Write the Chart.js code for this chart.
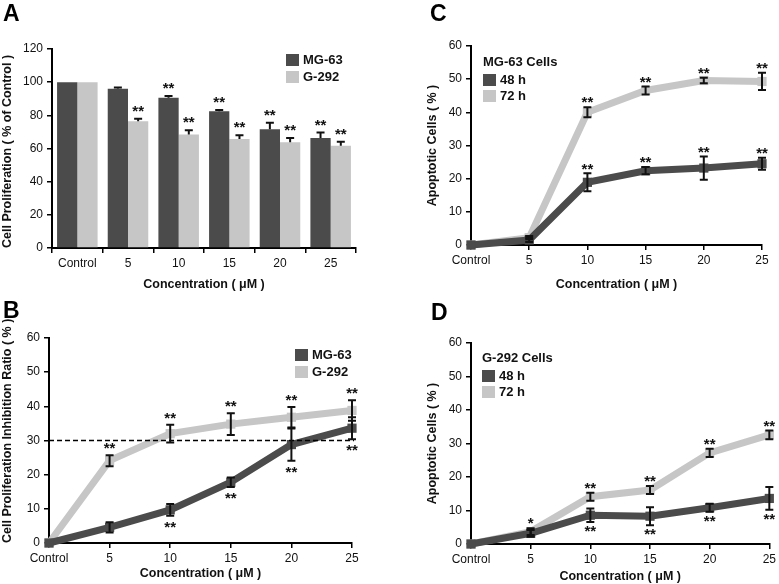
<!DOCTYPE html>
<html>
<head>
<meta charset="utf-8">
<script src="https://cdn.jsdelivr.net/npm/chart.js@4.4.1/dist/chart.umd.min.js"></script>
<style>
  body { margin: 0; background: #fff; }
  #wrap { position: relative; width: 779px; height: 584px; overflow: hidden; }
  canvas { position: absolute; }
</style>
</head>
<body>
<div id="wrap">
  <canvas id="chartA" width="390" height="292" style="left:0;top:0;width:390px;height:292px"></canvas>
  <canvas id="chartB" width="390" height="292" style="left:0;top:292px;width:390px;height:292px"></canvas>
  <canvas id="chartC" width="389" height="292" style="left:390px;top:0;width:389px;height:292px"></canvas>
  <canvas id="chartD" width="389" height="292" style="left:390px;top:292px;width:389px;height:292px"></canvas>
</div>
<script>
// categories shared by all four panels
const categories = ['Control', '5', '10', '15', '20', '25'];

// A - cell proliferation (% of control)
const profMG63 = [100, 96, 90.6, 82.4, 71.6, 66.4];
const profMG63Err = [0, 0.8, 1, 0.8, 4, 3.2];
const profG292 = [100, 76.4, 68.4, 65.8, 63.8, 61.6];
const profG292Err = [0, 1.6, 2.6, 2.2, 2.6, 2.4];
const profMG63Stars = ['', '', '**', '**', '**', '**'];
const profG292Stars = ['', '**', '**', '**', '**', '**'];

// B - inhibition ratio (%)
const inhMG63 = [0, 4.6, 9.7, 17.8, 28.8, 33.6];
const inhMG63Err = [0, 1.5, 1.7, 1.4, 4.7, 3.2];
const inhG292 = [0, 24.1, 32, 34.8, 36.8, 38.8];
const inhG292Err = [0, 1.6, 2.6, 3.2, 3, 3];
const inhMG63Stars = ['', '', '**', '**', '**', '**'];
const inhG292Stars = ['', '**', '**', '**', '**', '**'];
const inhThreshold = 30;

// C - apoptosis, MG-63 cells
const apoMG48 = [0, 1.5, 18.9, 22.4, 23.2, 24.5];
const apoMG48Err = [0, 0.6, 2.7, 1.1, 3.5, 1.8];
const apoMG72 = [0, 2.2, 40, 46.6, 49.6, 49.3];
const apoMG72Err = [0, 0.5, 1.5, 1.2, 0.8, 2.6];
const apoMG48Stars = ['', '', '**', '**', '**', '**'];
const apoMG72Stars = ['', '', '**', '**', '**', '**'];

// D - apoptosis, G-292 cells
const apoG48 = [0, 3.2, 8.6, 8.3, 10.8, 13.6];
const apoG48Err = [0, 1, 2, 2.7, 1.2, 3.4];
const apoG72 = [0, 3.7, 14.1, 16.1, 27.2, 32.6];
const apoG72Err = [0, 1, 1.2, 1.2, 1.2, 1.3];
const apoG48Stars = ['', '', '**', '**', '**', '**'];
const apoG72Stars = ['', '*', '**', '**', '**', '**'];

const DARK = '#4b4b4b';
const LIGHT = '#c6c6c6';
const FONT = '"Liberation Sans", Arial, sans-serif';

// error bars, stars, reference line, legend and panel letter
const extras = {
  id: 'extras',
  afterDatasetsDraw(chart, args, opts) {
    const ctx = chart.ctx;
    const ys = chart.scales.y;
    const area = chart.chartArea;
    ctx.save();

    if (opts.refLine != null) {
      const py = ys.getPixelForValue(opts.refLine);
      ctx.strokeStyle = '#000';
      ctx.lineWidth = 1.5;
      ctx.setLineDash([5, 3]);
      ctx.beginPath();
      ctx.moveTo(area.left, py);
      ctx.lineTo(area.right + 2, py);
      ctx.stroke();
      ctx.setLineDash([]);
    }

    // error bars
    ctx.strokeStyle = '#111';
    ctx.lineWidth = 2;
    (opts.errors || []).forEach((errs, di) => {
      const vals = chart.data.datasets[di].data;
      chart.getDatasetMeta(di).data.forEach((el, i) => {
        const e = errs[i];
        if (!e) return;
        const top = ys.getPixelForValue(vals[i] + e);
        const bot = ys.getPixelForValue(opts.oneSided ? vals[i] : vals[i] - e);
        const c = opts.cap;
        ctx.beginPath();
        ctx.moveTo(el.x, top); ctx.lineTo(el.x, bot);
        ctx.moveTo(el.x - c, top); ctx.lineTo(el.x + c, top);
        if (!opts.oneSided) { ctx.moveTo(el.x - c, bot); ctx.lineTo(el.x + c, bot); }
        ctx.stroke();
      });
    });

    // significance marks
    ctx.fillStyle = '#111';
    ctx.font = 'bold 15px ' + FONT;
    ctx.textAlign = 'center';
    ctx.textBaseline = 'middle';
    (opts.stars || []).forEach(s => {
      const vals = chart.data.datasets[s.ds].data;
      const errs = opts.errors[s.ds];
      chart.getDatasetMeta(s.ds).data.forEach((el, i) => {
        if (!s.marks[i]) return;
        if (s.below) {
          const py = ys.getPixelForValue(vals[i] - errs[i]);
          ctx.fillText(s.marks[i], el.x, py + opts.gap + 3);
        } else {
          const py = ys.getPixelForValue(vals[i] + errs[i]);
          ctx.fillText(s.marks[i], el.x, py - opts.gap + 3);
        }
      });
    });

    // legend
    const lg = opts.legend;
    if (lg) {
      ctx.textAlign = 'left';
      ctx.font = 'bold 13px ' + FONT;
      ctx.fillStyle = '#111';
      let y = lg.y;
      if (lg.title) {
        ctx.fillText(lg.title, lg.x, y);
        y += lg.step + 2;
      }
      chart.data.datasets.forEach(d => {
        ctx.fillStyle = d.backgroundColor;
        ctx.fillRect(lg.x, y - 6, 13, 12);
        ctx.fillStyle = '#111';
        ctx.fillText(d.label, lg.x + 17, y);
        y += lg.step;
      });
    }

    // panel letter
    ctx.font = 'bold 23px ' + FONT;
    ctx.textAlign = 'left';
    ctx.textBaseline = 'top';
    ctx.fillStyle = '#000';
    ctx.fillText(opts.letter, opts.letterX, opts.letterY);
    ctx.restore();
  }
};

function axisX(height, offsetGrid) {
  return {
    afterFit: s => { s.height = height; },
    offset: offsetGrid,
    border: { color: '#000', width: 2 },
    grid: { drawOnChartArea: false, color: '#000', lineWidth: 1.5, tickLength: 5, offset: offsetGrid },
    ticks: { color: '#111', font: { family: FONT, size: 12 }, padding: 3, maxRotation: 0 },
    title: { display: true, text: 'Concentration ( μM )', color: '#111',
             font: { family: FONT, size: 12.5, weight: 'bold' }, padding: { top: 0, bottom: 0 } }
  };
}

function axisY(width, max, step, title, align) {
  return {
    afterFit: s => { s.width = width; },
    min: 0, max: max,
    border: { color: '#000', width: 2 },
    grid: { drawOnChartArea: false, color: '#000', lineWidth: 1.5, tickLength: 5 },
    ticks: { stepSize: step, color: '#111', font: { family: FONT, size: 12 }, padding: 4 },
    title: { display: true, text: title, color: '#111', align: align,
             font: { family: FONT, size: 12.5, weight: 'bold' }, padding: { top: 0, bottom: 0 } }
  };
}

function lineSet(label, data, color) {
  return {
    label: label, data: data,
    borderColor: color, backgroundColor: color,
    borderWidth: 7, pointStyle: 'rect', pointRadius: 6.5, pointHoverRadius: 6.5,
    pointBorderWidth: 0, tension: 0, clip: false
  };
}

const baseOpts = {
  responsive: false,
  animation: false,
  events: []
};

new Chart(document.getElementById('chartA'), {
  type: 'bar',
  data: {
    labels: categories,
    datasets: [
      { label: 'MG-63', data: profMG63, backgroundColor: DARK, categoryPercentage: 0.8, barPercentage: 1 },
      { label: 'G-292', data: profG292, backgroundColor: LIGHT, categoryPercentage: 0.8, barPercentage: 1 }
    ]
  },
  options: Object.assign({}, baseOpts, {
    layout: { padding: { left: 0, top: 49, right: 34, bottom: 0 } },
    scales: {
      x: axisX(44, true),
      y: axisY(52, 120, 20, 'Cell Proliferation ( % of Control )', 'start')
    },
    plugins: {
      legend: { display: false }, tooltip: { enabled: false },
      extras: {
        errors: [profMG63Err, profG292Err], oneSided: true, cap: 4, gap: 10,
        stars: [{ ds: 0, marks: profMG63Stars }, { ds: 1, marks: profG292Stars }],
        legend: { x: 286, y: 60, step: 17 },
        letter: 'A', letterX: 3, letterY: 3
      }
    }
  }),
  plugins: [extras]
});

new Chart(document.getElementById('chartB'), {
  type: 'line',
  data: {
    labels: categories,
    datasets: [lineSet('MG-63', inhMG63, DARK), lineSet('G-292', inhG292, LIGHT)]
  },
  options: Object.assign({}, baseOpts, {
    layout: { padding: { left: 0, top: 46, right: 38, bottom: 3 } },
    scales: {
      x: axisX(38, false),
      y: axisY(49, 60, 10, 'Cell Proliferation Inhibition Ratio ( % )', 'start')
    },
    plugins: {
      legend: { display: false }, tooltip: { enabled: false },
      extras: {
        errors: [inhMG63Err, inhG292Err], oneSided: false, cap: 4, gap: 9,
        refLine: inhThreshold,
        stars: [{ ds: 0, marks: inhMG63Stars, below: true }, { ds: 1, marks: inhG292Stars }],
        legend: { x: 295, y: 63, step: 17 },
        letter: 'B', letterX: 3, letterY: 8
      }
    }
  }),
  plugins: [extras]
});

new Chart(document.getElementById('chartC'), {
  type: 'line',
  data: {
    labels: categories,
    datasets: [lineSet('48 h', apoMG48, DARK), lineSet('72 h', apoMG72, LIGHT)]
  },
  options: Object.assign({}, baseOpts, {
    layout: { padding: { left: 35, top: 46, right: 17, bottom: 0 } },
    scales: {
      x: axisX(47, false),
      y: axisY(46, 60, 10, 'Apoptotic Cells ( % )', 'center')
    },
    plugins: {
      legend: { display: false }, tooltip: { enabled: false },
      extras: {
        errors: [apoMG48Err, apoMG72Err], oneSided: false, cap: 4, gap: 7,
        stars: [{ ds: 0, marks: apoMG48Stars }, { ds: 1, marks: apoMG72Stars }],
        legend: { x: 93, y: 62, step: 16, title: 'MG-63 Cells' },
        letter: 'C', letterX: 40, letterY: 3
      }
    }
  }),
  plugins: [extras]
});

new Chart(document.getElementById('chartD'), {
  type: 'line',
  data: {
    labels: categories,
    datasets: [lineSet('48 h', apoG48, DARK), lineSet('72 h', apoG72, LIGHT)]
  },
  options: Object.assign({}, baseOpts, {
    layout: { padding: { left: 35, top: 51, right: 7, bottom: 0 } },
    scales: {
      x: axisX(40, false),
      y: axisY(46, 60, 10, 'Apoptotic Cells ( % )', 'center')
    },
    plugins: {
      legend: { display: false }, tooltip: { enabled: false },
      extras: {
        errors: [apoG48Err, apoG72Err], oneSided: false, cap: 4, gap: 7,
        stars: [{ ds: 0, marks: apoG48Stars, below: true }, { ds: 1, marks: apoG72Stars }],
        legend: { x: 92, y: 66, step: 16, title: 'G-292 Cells' },
        letter: 'D', letterX: 41, letterY: 10
      }
    }
  }),
  plugins: [extras]
});
</script>
</body>
</html>
